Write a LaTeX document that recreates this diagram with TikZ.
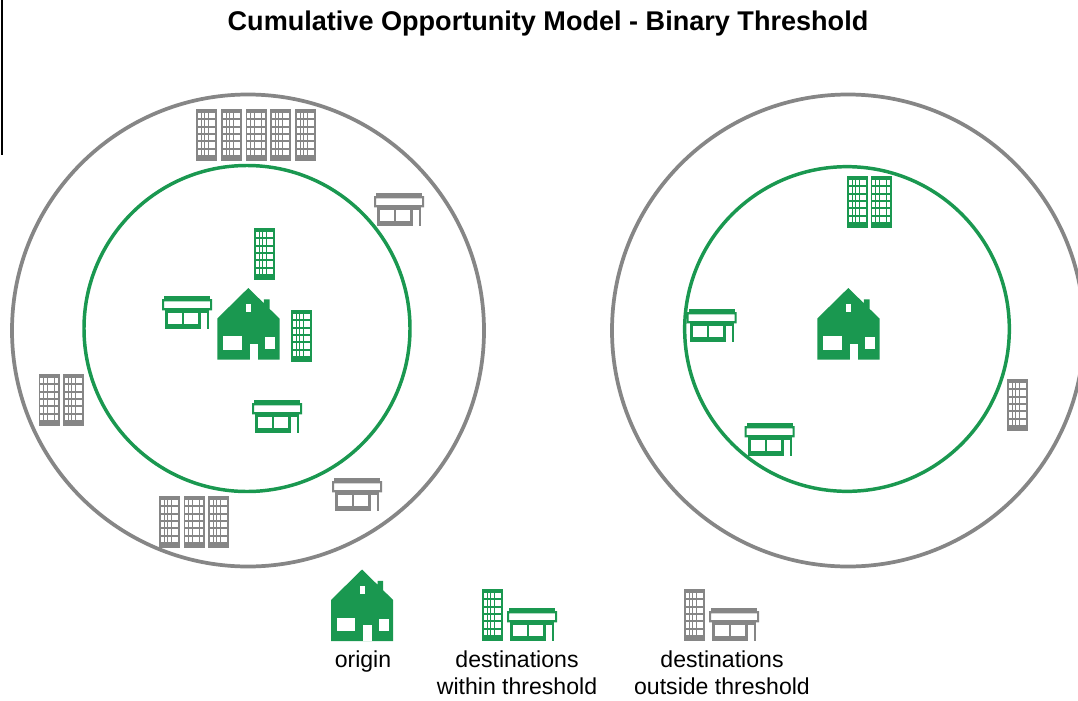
\documentclass[tikz,border=0pt]{standalone}
\usepackage{fontspec}
\setmainfont{Liberation Sans}
\definecolor{dgreen}{HTML}{1A9850}
\definecolor{dgray}{HTML}{868686}
\tikzset{
  ringgray/.style={draw=dgray,line width=2.8pt,fill=none},
  ringgreen/.style={draw=dgreen,line width=2.6pt,fill=none},
  label/.style={font=\fontsize{17.3}{17.3}\selectfont,text=black,inner sep=0pt,anchor=base},
  pics/building/.style={code={
    \fill[#1] (0,0) rectangle (21,52);
    \foreach \r in {0,...,5}{\foreach \c in {0,...,4}{
      \fill[white] ({1.9+\c*3.6},{3.8+\r*7.4}) rectangle ++(2.9,5.4);
    }}
  }},
  pics/store/.style={code={
    \fill[#1] (2,0) rectangle (48,2.8);
    \fill[#1,even odd rule] (0,3) rectangle (50,14.4) (2,5.4) rectangle (48,12);
    \fill[#1] (3,14.4) rectangle (39,32.5);
    \fill[#1] (39,14.4) rectangle (47,17.3);
    \fill[#1] (45,14.4) rectangle (47,32.5);
    \fill[white] (6.3,17.3) rectangle (20,28.3);
    \fill[white] (22.3,17.3) rectangle (36,28.3);
  }},
  pics/house/.style={code={
    \fill[#1] (0,30.5) -- (31,0) -- (46.5,15.2) -- (46.5,11.3) -- (52.2,11.3) -- (52.2,20.8) -- (62.2,30.5) -- (62.2,71.6) -- (0,71.6) -- cycle;
    \fill[white] (29,16) rectangle (33.6,24);
    \fill[white] (5.8,48.3) rectangle (24.2,61.6);
    \fill[white] (47.6,49.4) rectangle (57.6,61);
    \fill[white] (32.2,55.6) rectangle (40.6,71.6);
  }},
}
\begin{document}
\begin{tikzpicture}[x=0.75pt,y=-0.75pt]
\useasboundingbox (0,0) rectangle (1078,700);
\clip (0,0) rectangle (1078,700);
\fill[white] (0,0) rectangle (1078,700);
\coordinate (ltop) at (2,0);
\coordinate (lbot) at (2,155);
\draw[black,line width=1.5pt] (ltop) -- (lbot);
\node[font=\bfseries\fontsize{20.3}{20.3}\selectfont,inner sep=0pt,anchor=base] (title) at (548,30.5) {Cumulative Opportunity Model - Binary Threshold};
% rings
\node[ringgray,circle,inner sep=0pt,minimum size=354pt] (lo) at (248,330.5) {};
\node[ringgreen,circle,inner sep=0pt,minimum size=244.5pt] (li) at (247,328.5) {};
\node[ringgray,circle,inner sep=0pt,minimum size=354pt] (ro) at (848,330.5) {};
\node[ringgreen,circle,inner sep=0pt,minimum size=243.5pt] (ri) at (847,329) {};
% left
\foreach \x in {196,221,245.5,270,295}{\pic at (\x,109) {building=dgray};}
\pic at (374,193) {store=dgray};
\pic at (254,228) {building=dgreen};
\pic at (162,296) {store=dgreen};
\pic at (217.3,288) {house=dgreen};
\pic at (291,310) {building=dgreen};
\pic at (252,400) {store=dgreen};
\foreach \x in {38.5,63}{\pic at (\x,374) {building=dgray};}
\foreach \x in {159,183.5,208}{\pic at (\x,496) {building=dgray};}
\pic at (332,478) {store=dgray};
% right
\foreach \x in {847,870.5}{\pic at (\x,176) {building=dgreen};}
\pic at (686.5,309) {store=dgreen};
\pic at (817.3,288) {house=dgreen};
\pic at (744.5,423) {store=dgreen};
\pic at (1007,379) {building=dgray};
% legend
\pic at (331,569.5) {house=dgreen};
\pic at (482,589) {building=dgreen};
\pic at (507,608) {store=dgreen};
\pic at (684,589) {building=dgray};
\pic at (709,608) {store=dgray};
\node[label] (l1) at (363,667) {origin};
\node[label] (l2) at (517,667) {destinations};
\node[label] (l3) at (517,694.5) {within threshold};
\node[label] (l4) at (722,667) {destinations};
\node[label] (l5) at (722,694.5) {outside threshold};
\end{tikzpicture}
\end{document}
